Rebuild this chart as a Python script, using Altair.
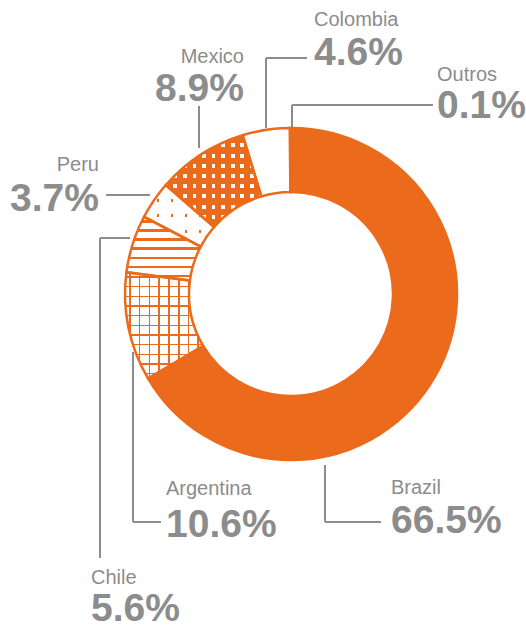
import math
import altair as alt
import pandas as pd

# ---------------- data ----------------
countries = ["Brazil", "Argentina", "Chile", "Peru", "Mexico", "Colombia", "Outros"]
shares = [66.5, 10.6, 5.6, 3.7, 8.9, 4.6, 0.1]
value_labels = ["66.5%", "10.6%", "5.6%", "3.7%", "8.9%", "4.6%", "0.1%"]

# ---------------- style / layout ----------------
ORANGE = "#EC6A1B"
WHITE = "#FFFFFF"
CLEAR = "rgba(255,255,255,0)"
GRAY = "#8C8C8C"
CX, CY = 291, 294
R_OUT, R_IN = 166, 102

base_fills = {"Brazil": ORANGE, "Argentina": WHITE, "Chile": WHITE, "Peru": ORANGE,
              "Mexico": WHITE, "Colombia": WHITE, "Outros": WHITE}

# label anchors: (x, name baseline, value baseline, align)
label_layout = {
    "Colombia": (314, 26, 65, "left"),
    "Outros": (437, 81, 118, "left"),
    "Mexico": (244, 63, 101, "right"),
    "Peru": (99, 171, 211, "right"),
    "Chile": (91, 584, 621, "left"),
    "Argentina": (166, 495, 537, "left"),
    "Brazil": (391, 494, 533, "left"),
}
# leader line segments (pixel layout)
leader_segments = [
    (266, 128, 266, 58), (266, 58, 307, 58),
    (292, 128, 292, 105), (292, 105, 433, 105),
    (199, 148, 199, 106),
    (106, 195, 150, 195),
    (130, 238, 100, 238), (100, 238, 100, 558),
    (133, 352, 133, 522), (133, 522, 161, 522),
    (325, 465, 325, 522), (325, 522, 381, 522),
]


def bands(n, line_frac, line_color, gap_color, along_x):
    """Hard-stop linear gradient producing n stripes."""
    stops = []
    for i in range(n):
        a = i / n
        b = (i + 1) / n
        g = (1 - line_frac) / (2 * n)
        stops += [
            {"offset": round(a, 5), "color": gap_color},
            {"offset": round(a + g, 5), "color": gap_color},
            {"offset": round(a + g, 5), "color": line_color},
            {"offset": round(b - g, 5), "color": line_color},
            {"offset": round(b - g, 5), "color": gap_color},
            {"offset": round(b, 5), "color": gap_color},
        ]
    grad = {"gradient": "linear", "stops": stops, "x1": 0, "y1": 0}
    if along_x:
        grad.update({"x2": 1, "y2": 0})
    else:
        grad.update({"x2": 0, "y2": 1})
    return grad


df = pd.DataFrame({"country": countries, "share": shares,
                   "order": list(range(len(countries)))})

base = (
    alt.Chart(df)
    .transform_window(cum="sum(share)", sort=[alt.SortField("order")], frame=[None, 0])
    .transform_calculate(start="datum.cum - datum.share")
)

theta = alt.Theta("start:Q", stack=False,
                  scale=alt.Scale(domain=[0, 100], range=[0, 2 * math.pi]))
theta2 = alt.Theta2("cum:Q")

arc_kw = dict(outerRadius=R_OUT, innerRadius=R_IN, x=CX, y=CY)

base_layer = base.mark_arc(**arc_kw).encode(
    theta=theta, theta2=theta2,
    fill=alt.Fill("country:N", legend=None,
                  scale=alt.Scale(domain=countries,
                                  range=[base_fills[c] for c in countries])),
)


def overlay(country, grad):
    return (
        base.transform_filter(alt.datum.country == country)
        .mark_arc(fill=grad, **arc_kw)
        .encode(theta=theta, theta2=theta2)
    )


overlays = [
    # Argentina: grid of thin orange lines on white
    overlay("Argentina", bands(11, 0.17, ORANGE, CLEAR, along_x=False)),
    overlay("Argentina", bands(8, 0.17, ORANGE, CLEAR, along_x=True)),
    # Chile: horizontal orange stripes
    overlay("Chile", bands(7, 0.27, ORANGE, WHITE, along_x=False)),
    # Peru: small orange dots on white
    overlay("Peru", bands(4, 0.8, WHITE, CLEAR, along_x=False)),
    overlay("Peru", bands(5, 0.8, WHITE, CLEAR, along_x=True)),
    # Mexico: small white squares on orange
    overlay("Mexico", bands(9, 0.6, ORANGE, CLEAR, along_x=False)),
    overlay("Mexico", bands(10, 0.6, ORANGE, CLEAR, along_x=True)),
]

outline = base.mark_arc(fillOpacity=0, stroke=ORANGE, strokeWidth=2.5, **arc_kw).encode(
    theta=theta, theta2=theta2
)

# labels
lab_df = pd.DataFrame({
    "country": countries,
    "value": value_labels,
    "lx": [label_layout[c][0] for c in countries],
    "ny": [label_layout[c][1] for c in countries],
    "vy": [label_layout[c][2] for c in countries],
    "align": [label_layout[c][3] for c in countries],
})

names_left = alt.Chart(lab_df).transform_filter(alt.datum.align == "left").mark_text(
    align="left", baseline="alphabetic", font="Liberation Sans", fontSize=20, color=GRAY
).encode(x=alt.X("lx:Q", scale=None), y=alt.Y("ny:Q", scale=None), text="country:N")
names_right = alt.Chart(lab_df).transform_filter(alt.datum.align == "right").mark_text(
    align="right", baseline="alphabetic", font="Liberation Sans", fontSize=20, color=GRAY
).encode(x=alt.X("lx:Q", scale=None), y=alt.Y("ny:Q", scale=None), text="country:N")
vals_left = alt.Chart(lab_df).transform_filter(alt.datum.align == "left").mark_text(
    align="left", baseline="alphabetic", font="Liberation Sans", fontSize=39,
    fontWeight="bold", color=GRAY
).encode(x=alt.X("lx:Q", scale=None), y=alt.Y("vy:Q", scale=None), text="value:N")
vals_right = alt.Chart(lab_df).transform_filter(alt.datum.align == "right").mark_text(
    align="right", baseline="alphabetic", font="Liberation Sans", fontSize=39,
    fontWeight="bold", color=GRAY
).encode(x=alt.X("lx:Q", scale=None), y=alt.Y("vy:Q", scale=None), text="value:N")

seg_df = pd.DataFrame(leader_segments, columns=["x1", "y1", "x2", "y2"])
leaders = alt.Chart(seg_df).mark_rule(color=GRAY, strokeWidth=2).encode(
    x=alt.X("x1:Q", scale=None), y=alt.Y("y1:Q", scale=None),
    x2="x2:Q", y2="y2:Q",
)

chart = (
    alt.layer(leaders, base_layer, *overlays, outline,
              names_left, names_right, vals_left, vals_right)
    .properties(width=526, height=628, padding=0, autosize="none")
    .configure_view(strokeWidth=0)
)

chart.save("out.html", embed_options={"renderer": "svg", "actions": False})
